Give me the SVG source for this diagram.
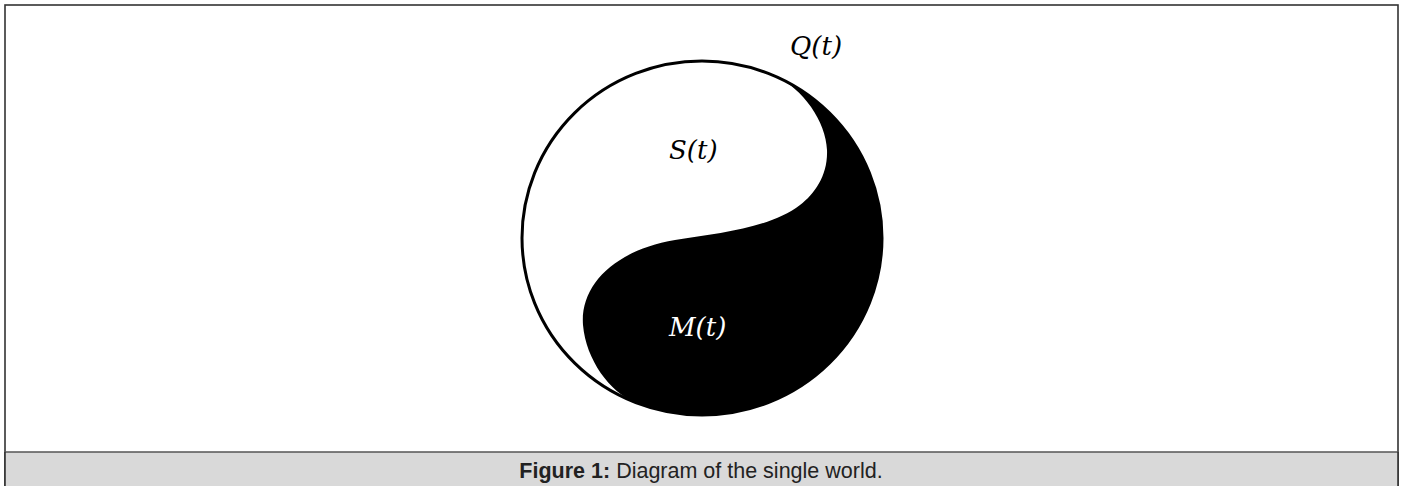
<svg xmlns="http://www.w3.org/2000/svg" width="1402" height="486" viewBox="0 0 1402 486">
<style>
.math{font-family:"DejaVu Serif","Liberation Serif",serif;font-style:italic;font-size:26px}
.cap{font-family:"Liberation Sans",Arial,sans-serif;font-size:21.5px;fill:#222}
</style>
<rect x="0" y="0" width="1402" height="486" fill="#fff"/>
<g id="frame">
<rect x="5" y="5" width="1393" height="490" fill="none" stroke="#333" stroke-width="1.6"/>
<rect x="5" y="452" width="1393" height="40" fill="#d9d9d9" stroke="none"/>
<line x1="5" y1="452" x2="1398" y2="452" stroke="#555" stroke-width="1.6"/>
<line x1="5" y1="452" x2="5" y2="486" stroke="#333" stroke-width="1.6"/>
<line x1="1398" y1="452" x2="1398" y2="486" stroke="#333" stroke-width="1.6"/>
</g>
<g id="world">
<ellipse cx="702" cy="238" rx="180" ry="177" fill="#fff"/>
<path id="M-region" d="M775.2,76.3 A180,177 0 0 1 634.6,402.1 C610,392 586,360 583,325 C580,285 615,250 675,240 C720,233 770,228 800,205 C815,193.5 828,175 827,150 C826,122 803,88.3 775.2,76.3 Z" fill="#000"/>
<ellipse cx="702" cy="238" rx="180" ry="177" fill="none" stroke="#000" stroke-width="3"/>
</g>
<g id="labels">
<text class="math" x="790" y="55">Q(t)</text>
<text class="math" x="669" y="159">S(t)</text>
<text class="math" x="669" y="336" fill="#fff">M(t)</text>
</g>
<text class="cap" x="701" y="478" text-anchor="middle"><tspan font-weight="bold">Figure 1:</tspan> Diagram of the single world.</text>
</svg>
